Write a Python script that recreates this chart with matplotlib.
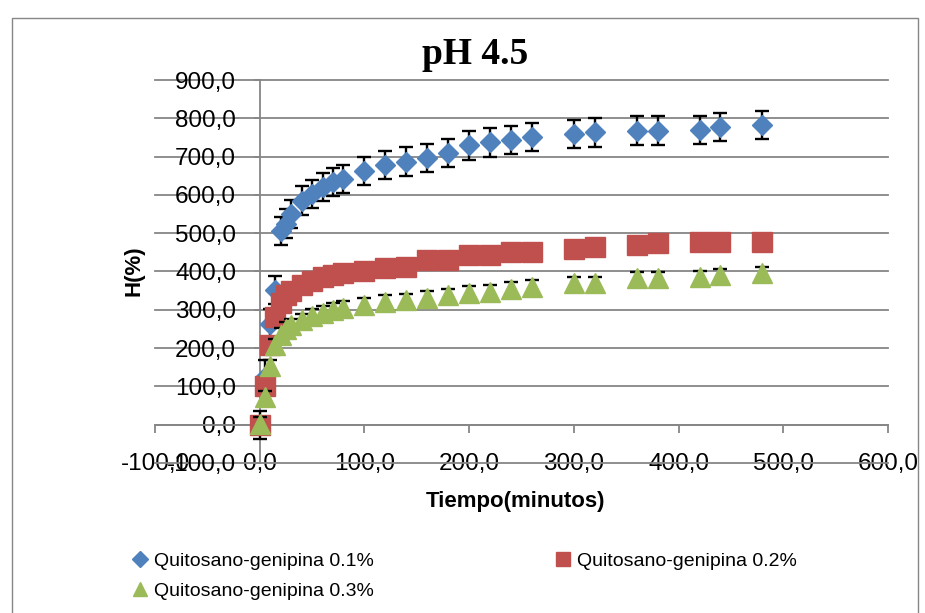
import matplotlib
matplotlib.use("Agg")
import matplotlib.pyplot as plt
from matplotlib.lines import Line2D
from matplotlib.patches import Rectangle
from matplotlib.ticker import FuncFormatter, MultipleLocator

# time points (minutes), shared by the three series
tiempo = [0, 5, 10, 15, 20, 25, 30, 40, 50, 60, 70, 80, 100, 120, 140, 160, 180,
          200, 220, 240, 260, 300, 320, 360, 380, 420, 440, 480]

h_01 = [0, 125, 262, 352, 505, 525, 550, 585, 603, 620, 633, 642, 662, 678, 687,
        697, 709, 729, 737, 744, 752, 759, 763, 768, 768, 770, 778, 783]
err_01 = [37, 43, 40, 37, 37, 37, 37, 37, 37, 37, 37, 37, 37, 37, 37,
          37, 37, 37, 37, 37, 37, 37, 37, 37, 37, 37, 37, 37]

h_02 = [0, 100, 208, 280, 318, 338, 350, 365, 375, 385, 390, 395, 400, 409, 413,
        429, 430, 442, 443, 451, 451, 460, 463, 470, 474, 476, 476, 477]
err_02 = [6] * len(tiempo)

h_03 = [2, 72, 152, 208, 235, 250, 260, 273, 285, 292, 300, 305, 313, 321, 325,
        332, 338, 344, 347, 355, 360, 369, 369, 382, 382, 385, 390, 395]
err_03 = [17] * len(tiempo)

labels = ["Quitosano-genipina 0.1%", "Quitosano-genipina 0.2%", "Quitosano-genipina 0.3%"]
colors = ["#4F81BD", "#C0504D", "#9BBB59"]
GRID = "#868686"

plt.rcParams['font.family'] = ['Liberation Sans', 'DejaVu Sans']

fig = plt.figure(figsize=(9.25, 6.13), dpi=100)
fig.patches.append(Rectangle((12 / 925, -0.05), 906 / 925, 1.05 - 18 / 613,
                             transform=fig.transFigure, fill=False,
                             edgecolor=GRID, lw=1.0))

ax = fig.add_axes([155 / 925, 1 - 463 / 613, 733 / 925, 383 / 613])
ax.set_xlim(-100, 600)
ax.set_ylim(-100, 900)

ebkw = dict(ecolor="black", elinewidth=1.7, capsize=5, capthick=1.7, linestyle="none")
ax.errorbar(tiempo, h_01, yerr=err_01, fmt="D", ms=10, color=colors[0],
            mec=colors[0], zorder=3, **ebkw)
ax.errorbar(tiempo, h_02, yerr=err_02, fmt="s", ms=14, color=colors[1],
            mec=colors[1], zorder=4, **ebkw)
ax.errorbar(tiempo, h_03, yerr=err_03, fmt="^", ms=14, color=colors[2],
            mec=colors[2], zorder=5, **ebkw)

for s in ("top", "right"):
    ax.spines[s].set_visible(False)
ax.spines["left"].set_position(("data", 0))
ax.spines["bottom"].set_position(("data", 0))
for s in ("left", "bottom"):
    ax.spines[s].set_color(GRID)
    ax.spines[s].set_linewidth(1.3)
    ax.spines[s].set_zorder(1)

ax.xaxis.set_major_locator(MultipleLocator(100))
ax.yaxis.set_major_locator(MultipleLocator(100))
fmt = FuncFormatter(lambda v, p: f"{v:.1f}".replace(".", ","))
ax.xaxis.set_major_formatter(fmt)
ax.yaxis.set_major_formatter(fmt)
ax.tick_params(axis="x", direction="out", length=5.5, width=1.3, color=GRID,
               pad=15, labelsize=17.5)
ax.tick_params(axis="y", direction="out", length=4, width=1.3, color=GRID,
               pad=13, labelsize=17.5)
ax.yaxis.grid(True, color=GRID, lw=1.3, zorder=0)
for gl in ax.get_ygridlines():
    gl.set_clip_on(False)
ax.set_axisbelow(True)

fig.text(475 / 925, 1 - 64 / 613, "pH 4.5", ha="center", va="baseline",
         family="Liberation Serif", fontweight="bold", fontsize=27)
fig.text(516 / 925, 1 - 501 / 613, "Tiempo(minutos)", ha="center", va="center",
         fontweight="bold", fontsize=16)
fig.text(134 / 925, 1 - 271 / 613, "H(%)", ha="center", va="center",
         rotation=90, fontweight="bold", fontsize=16)

handles = [Line2D([], [], ls="none", marker="D", ms=8, color=colors[0]),
           Line2D([], [], ls="none", marker="s", ms=10, color=colors[1]),
           Line2D([], [], ls="none", marker="^", ms=10, color=colors[2])]
order = [0, 2, 1]
fig.legend([handles[i] for i in order], [labels[i] for i in order],
           loc="upper left", bbox_to_anchor=(132 / 925, 1 - 552 / 613),
           ncol=2, frameon=False, fontsize=14, borderpad=0, borderaxespad=0,
           handlelength=0.8, handletextpad=0.35, columnspacing=9.3,
           labelspacing=0.65)

fig.savefig("out.png", dpi=100)
